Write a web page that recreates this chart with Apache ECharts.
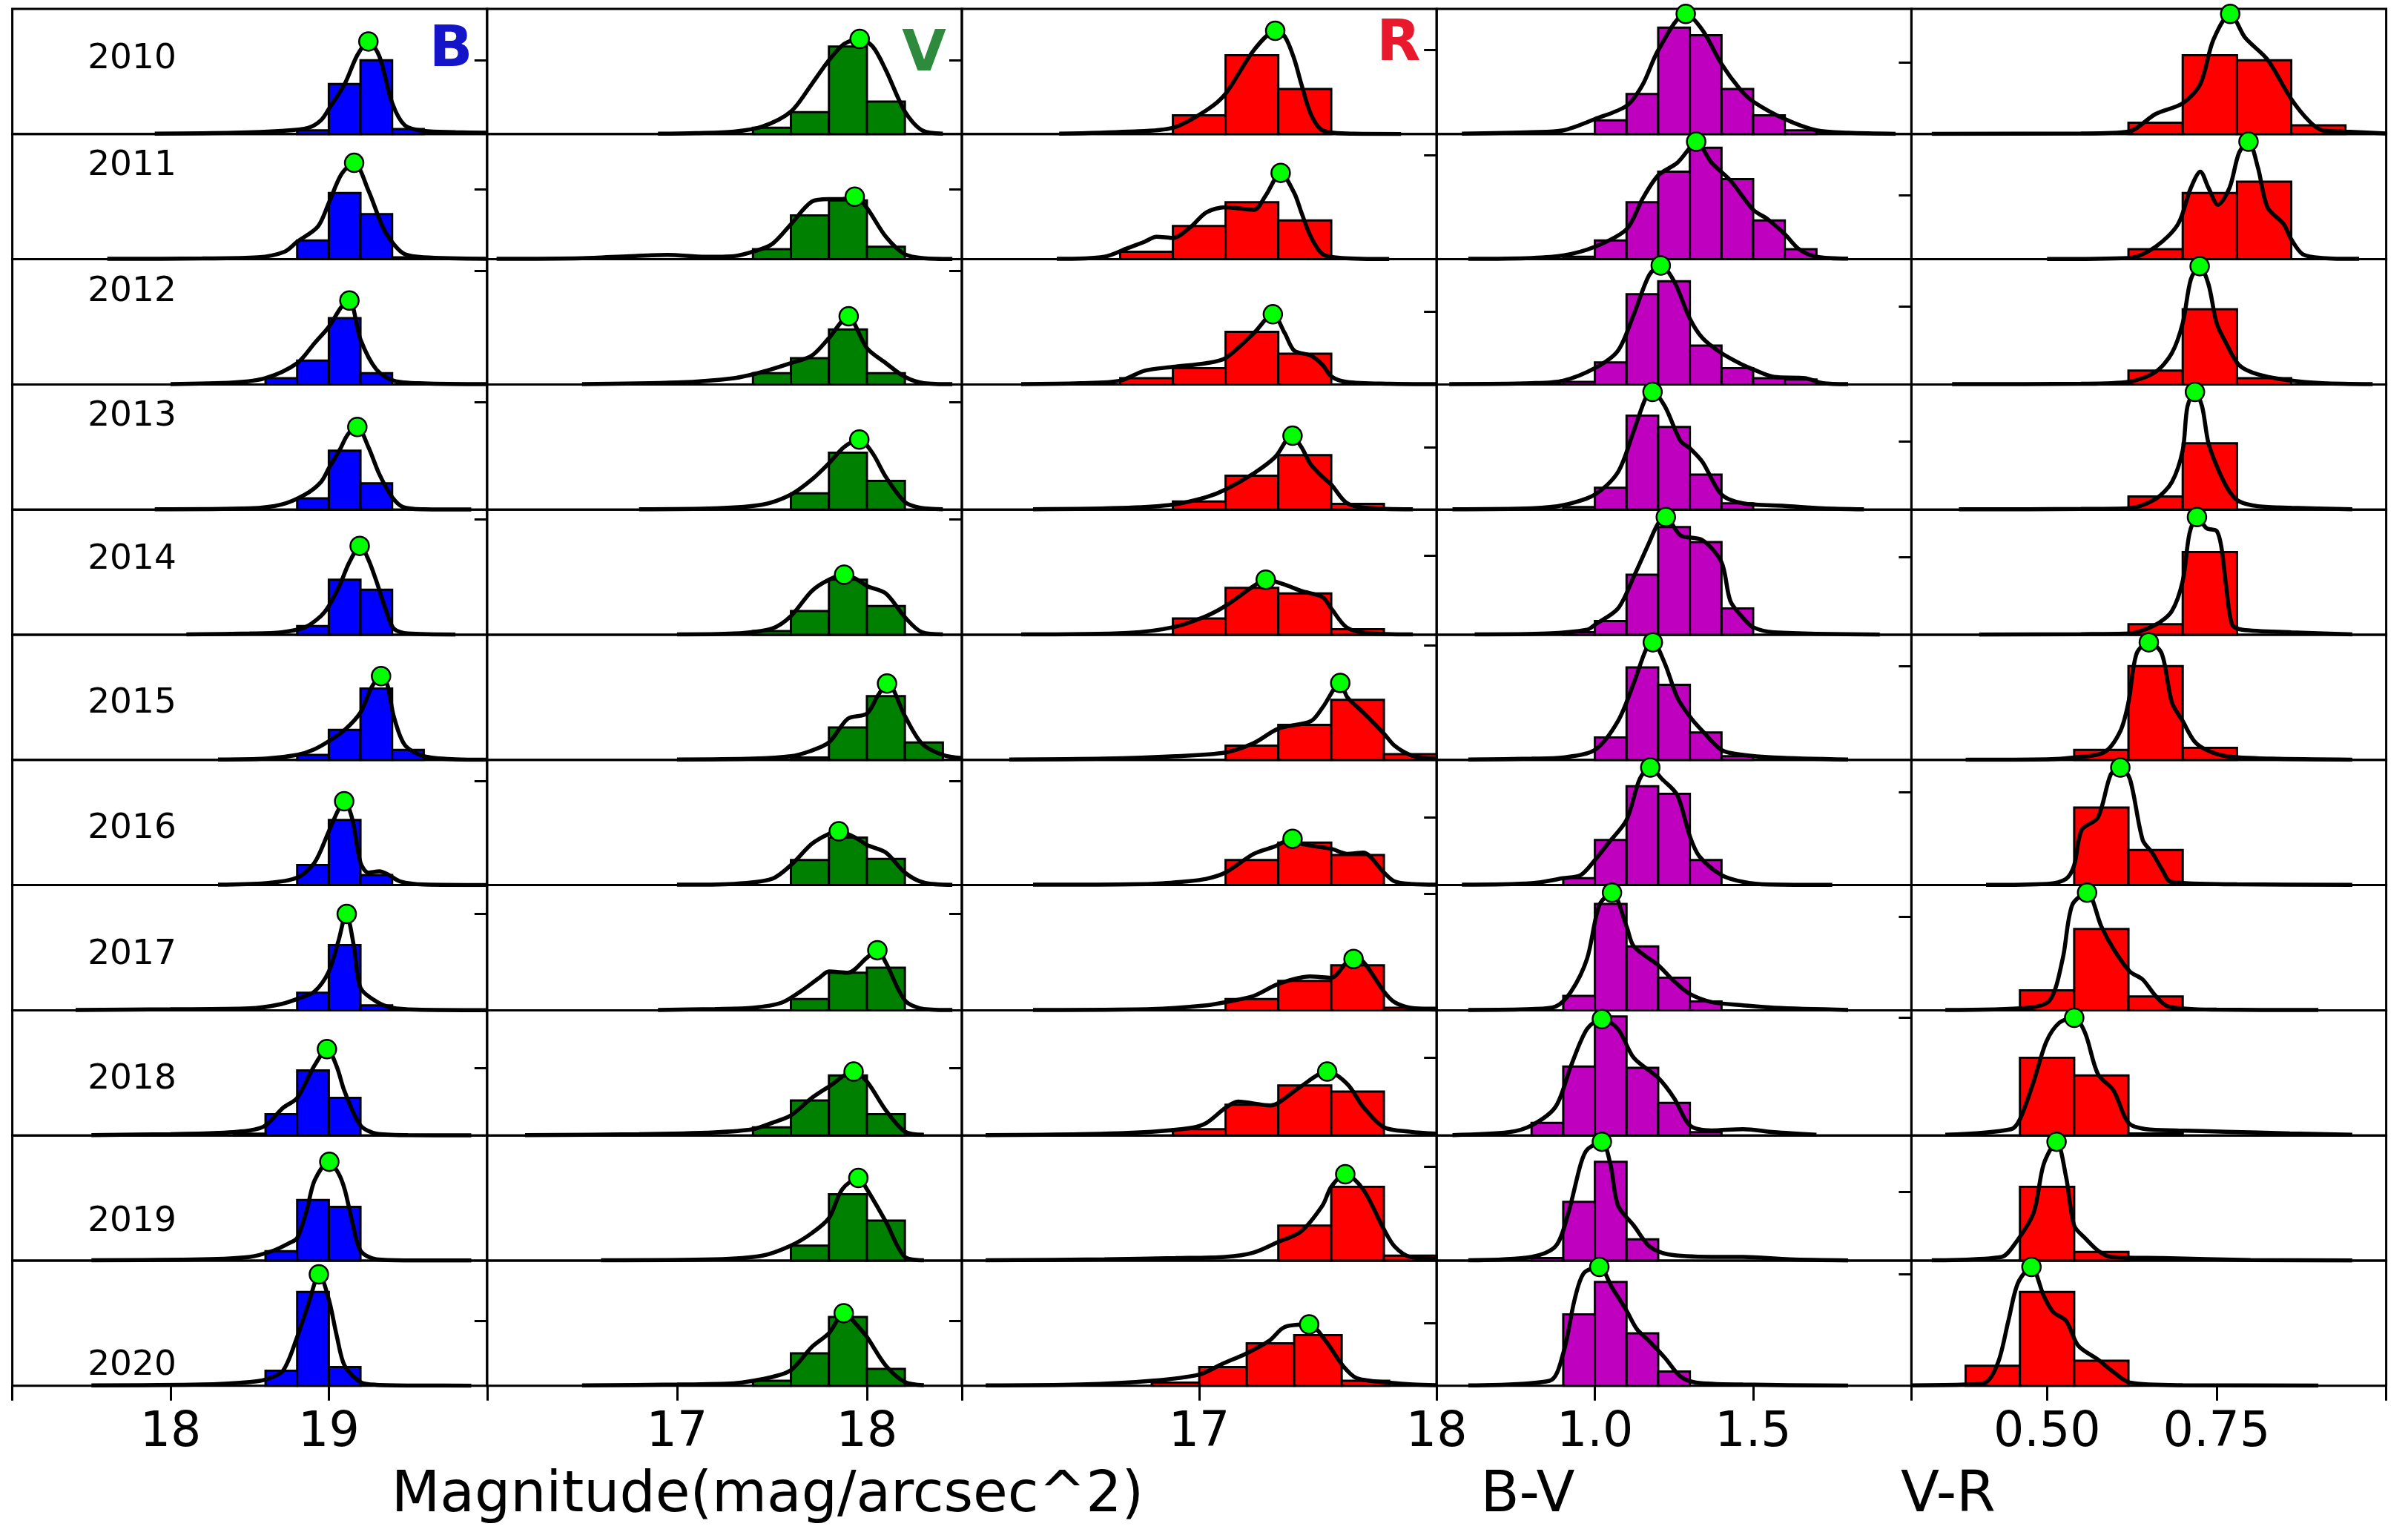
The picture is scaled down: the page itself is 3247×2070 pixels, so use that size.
<!DOCTYPE html>
<html>
<head>
<meta charset="utf-8">
<title>Histograms of sky brightness and colour, 2010-2020</title>
<script src="https://cdn.jsdelivr.net/npm/echarts@6.0.0/dist/echarts.min.js"></script>
<style>
  html, body { margin: 0; padding: 0; background: #fff; }
  #chart { width: 3247px; height: 2070px; }
</style>
</head>
<body>
<div id="chart"></div>
<script>
const YEARS = ['2010', '2011', '2012', '2013', '2014', '2015', '2016', '2017', '2018', '2019', '2020'];

// heights are read off the picture as % of each panel's height
// bars: [left edge, right edge, height]; kde: [x, height]; peak: [x, height]

// B band
const B_BARS = [
  [[18.8,19.0,3],[19.0,19.2,40],[19.2,19.4,59],[19.4,19.6,4]],
  [[18.8,19.0,15],[19.0,19.2,53],[19.2,19.4,36],[19.4,19.6,1.5]],
  [[18.6,18.8,5],[18.8,19.0,19],[19.0,19.2,53],[19.2,19.4,9]],
  [[18.8,19.0,9],[19.0,19.2,47],[19.2,19.4,21]],
  [[18.8,19.0,7],[19.0,19.2,44],[19.2,19.4,36]],
  [[18.8,19.0,4],[19.0,19.2,24],[19.2,19.4,57],[19.4,19.6,8]],
  [[18.8,19.0,16],[19.0,19.2,52],[19.2,19.4,8]],
  [[18.8,19.0,14],[19.0,19.2,52],[19.2,19.4,4]],
  [[18.4,18.6,1.5],[18.6,18.8,17],[18.8,19.0,52],[19.0,19.2,30]],
  [[18.6,18.8,7.5],[18.8,19.0,48.5],[19.0,19.2,43]],
  [[18.6,18.8,12],[18.8,19.0,75],[19.0,19.2,15]]
];
const B_KDE = [
  [[17.9,0.3],[18.4,1],[18.7,2.5],[18.87,5],[18.95,11],[19.0,20],[19.1,40],[19.18,63],[19.25,74],[19.32,62],[19.4,25],[19.48,7],[19.6,2.5],[19.8,1.5],[20,1]],
  [[17.6,0.3],[18.2,0.6],[18.55,1.5],[18.72,6],[18.8,14],[18.93,26],[19.0,45],[19.08,68],[19.16,77],[19.25,55],[19.34,26],[19.41,12],[19.48,4],[19.6,1.5],[20,0.3]],
  [[18.0,0.3],[18.4,1.5],[18.6,5],[18.8,17],[18.91,33],[19.0,46],[19.08,62],[19.13,67],[19.2,36],[19.3,12],[19.41,3],[19.6,0.8],[20,0.2]],
  [[17.9,0.3],[18.5,1],[18.7,4],[18.85,12],[18.95,22],[19.0,33],[19.07,48],[19.12,60],[19.18,66],[19.25,50],[19.32,28],[19.4,10],[19.47,2],[19.6,0.3],[19.9,0.1]],
  [[18.1,0.3],[18.5,1],[18.7,2],[18.85,6],[18.95,15],[19.0,23],[19.07,40],[19.13,58],[19.2,71],[19.25,60],[19.3,43],[19.36,20],[19.41,5],[19.5,1],[19.8,0.2]],
  [[18.3,0.3],[18.6,1],[18.8,4],[18.9,8],[19.0,15],[19.1,24],[19.2,38],[19.27,58],[19.33,67],[19.37,60],[19.41,35],[19.48,12],[19.6,3],[19.8,0.5],[20,0.2]],
  [[18.3,0.3],[18.6,1.5],[18.8,6],[18.91,18],[19.0,43],[19.06,60],[19.1,67],[19.15,52],[19.2,18],[19.25,10],[19.32,11],[19.38,8],[19.45,3],[19.6,0.5],[20,0.1]],
  [[17.4,0.3],[18.0,0.8],[18.5,1.5],[18.7,5],[18.82,10],[18.91,15],[19.0,31],[19.06,55],[19.11,77],[19.16,50],[19.2,18],[19.3,7],[19.4,2],[19.55,0.5],[20,0.1]],
  [[17.5,0.3],[18.0,1],[18.3,2],[18.5,4],[18.6,8],[18.71,22],[18.8,30],[18.91,56],[18.99,69],[19.05,55],[19.1,35],[19.2,8],[19.3,1.5],[19.5,0.3],[19.9,0.1]],
  [[17.5,0.3],[18.2,1],[18.5,3],[18.65,8],[18.75,14],[18.8,18],[18.86,40],[18.91,64],[19.0,79],[19.06,70],[19.1,57],[19.15,30],[19.2,8],[19.3,1],[19.5,0.2],[19.9,0.1]],
  [[17.5,0.3],[18.2,1],[18.5,3],[18.6,5],[18.71,12],[18.8,39],[18.87,65],[18.94,89],[19.0,69],[19.05,40],[19.1,16],[19.2,3],[19.3,0.8],[19.6,0.2],[19.9,0.1]]
];
const B_PEAK = [[19.25,74],[19.16,77],[19.13,67],[19.18,66],[19.195,71],[19.33,67],[19.097,67],[19.113,77],[18.988,69],[19.003,79],[18.937,89]];
const B_YTICK = [null,null,null,null,null,null,null,null,null,null,null];

// V band
const V_BARS = [
  [[17.4,17.6,5],[17.6,17.8,17.5],[17.8,18.0,70],[18.0,18.2,26]],
  [[17.4,17.6,8],[17.6,17.8,35],[17.8,18.0,47],[18.0,18.2,10]],
  [[17.4,17.6,9],[17.6,17.8,21],[17.8,18.0,44],[18.0,18.2,9]],
  [[17.6,17.8,13],[17.8,18.0,45.5],[18.0,18.2,23]],
  [[17.4,17.6,3],[17.6,17.8,19],[17.8,18.0,44],[18.0,18.2,23]],
  [[17.6,17.8,2],[17.8,18.0,26],[18.0,18.2,51],[18.2,18.4,14]],
  [[17.6,17.8,20],[17.8,18.0,38],[18.0,18.2,21]],
  [[17.6,17.8,9],[17.8,18.0,30],[18.0,18.2,34]],
  [[17.4,17.6,6.5],[17.6,17.8,28],[17.8,18.0,48],[18.0,18.2,17]],
  [[17.6,17.8,12],[17.8,18.0,53],[18.0,18.2,32]],
  [[17.4,17.6,4],[17.6,17.8,26],[17.8,18.0,55],[18.0,18.2,13.5]]
];
const V_KDE = [
  [[16.9,0.3],[17.1,0.8],[17.3,2],[17.45,6],[17.6,18],[17.71,40],[17.8,59],[17.88,72],[17.96,76],[18.03,70],[18.1,51],[18.2,18],[18.29,3],[18.4,0.3]],
  [[16.05,0.3],[16.5,0.8],[16.75,2.5],[16.95,3.5],[17.15,2],[17.3,2.5],[17.4,6],[17.5,12],[17.6,28],[17.71,46],[17.8,48],[17.87,48],[17.94,50],[18.0,41],[18.1,18],[18.2,4],[18.3,0.8],[18.45,0.2]],
  [[16.5,0.3],[17.0,1.5],[17.3,5],[17.45,10],[17.6,17],[17.71,23],[17.8,37],[17.9,54],[18.0,29],[18.1,17],[18.2,6],[18.3,1],[18.45,0.2]],
  [[16.8,0.3],[17.2,1],[17.45,4],[17.6,12],[17.71,24],[17.8,37],[17.88,50],[17.96,56],[18.03,45],[18.1,26],[18.2,6],[18.28,1.5],[18.4,0.3]],
  [[17.0,0.3],[17.3,1],[17.5,5],[17.6,15],[17.71,35],[17.8,44],[17.88,48],[17.95,44],[18.0,39],[18.1,33],[18.2,14],[18.29,2],[18.4,0.3]],
  [[17.0,0.3],[17.4,1],[17.6,3],[17.7,7],[17.8,14],[17.9,33],[18.0,37],[18.06,52],[18.11,61],[18.2,35],[18.29,13],[18.4,4],[18.5,1.5]],
  [[17.0,0.3],[17.3,1],[17.5,5],[17.6,16],[17.71,33],[17.8,41],[17.85,43],[17.95,37],[18.0,32],[18.1,26],[18.2,10],[18.3,2],[18.45,0.2]],
  [[16.9,0.3],[17.2,1],[17.4,2],[17.55,6],[17.65,15],[17.75,26],[17.8,31],[17.9,30],[18.0,42],[18.055,48],[18.1,38],[18.2,8],[18.3,1],[18.45,0.2]],
  [[16.2,0.3],[16.8,1],[17.2,2.5],[17.4,5],[17.5,10],[17.6,16],[17.71,30],[17.8,39],[17.93,51],[18.0,43],[18.1,20],[18.2,3],[18.3,0.5]],
  [[16.6,0.3],[17.2,1],[17.45,4],[17.6,12],[17.71,22],[17.8,34],[17.87,57],[17.955,66],[18.0,57],[18.1,31],[18.2,3],[18.3,0.3]],
  [[16.5,0.3],[17.0,1],[17.3,2],[17.4,4],[17.5,7],[17.6,12.5],[17.71,31],[17.8,42],[17.88,58],[17.95,48],[18.0,39],[18.1,16],[18.2,3],[18.3,0.5]]
];
const V_PEAK = [[17.962,76],[17.936,50],[17.904,54.5],[17.96,56],[17.88,48],[18.106,61],[17.852,43],[18.055,48],[17.93,51],[17.955,66],[17.878,58]];
const V_YTICK = [59,56,91,86,92,null,83,77,54,null,52];

// R band
const R_BARS = [
  [[16.889,17.111,15],[17.111,17.333,63],[17.333,17.556,36]],
  [[16.667,16.889,6],[16.889,17.111,26.5],[17.111,17.333,45.5],[17.333,17.556,31]],
  [[16.667,16.889,5],[16.889,17.111,13],[17.111,17.333,42],[17.333,17.556,24.5]],
  [[16.889,17.111,6.5],[17.111,17.333,27],[17.333,17.556,43.5],[17.556,17.778,4.5]],
  [[16.889,17.111,13],[17.111,17.333,37.5],[17.333,17.556,33],[17.556,17.778,4.5]],
  [[17.111,17.333,11.5],[17.333,17.556,28],[17.556,17.778,48],[17.778,18.0,4.6]],
  [[17.111,17.333,20],[17.333,17.556,34],[17.556,17.778,24]],
  [[17.111,17.333,9],[17.333,17.556,23.5],[17.556,17.778,36],[17.778,18.0,2]],
  [[16.889,17.111,5],[17.111,17.333,24.5],[17.333,17.556,40],[17.556,17.778,35]],
  [[17.333,17.556,28],[17.556,17.778,59],[17.778,18.0,4]],
  [[16.8,17.0,2.6],[17.0,17.2,15],[17.2,17.4,34],[17.4,17.6,40.5],[17.6,17.8,4]]
];
const R_KDE = [
  [[16.41,0.3],[16.7,2],[16.889,5],[17.03,19],[17.11,32],[17.23,67],[17.32,82],[17.36,78],[17.4,60],[17.43,40],[17.47,16],[17.52,3],[17.65,0.3],[17.85,0.1]],
  [[16.4,0.3],[16.6,2],[16.7,9],[16.77,14],[16.82,18],[16.889,17],[16.965,26],[17.03,37.5],[17.11,41.5],[17.23,39.5],[17.28,51],[17.343,69],[17.4,53],[17.43,37.5],[17.47,18],[17.52,4],[17.6,1],[17.8,0.2]],
  [[16.25,0.3],[16.5,1],[16.667,3],[16.77,11],[16.889,14],[17.03,17],[17.11,21],[17.23,41],[17.31,56],[17.36,41],[17.4,27],[17.47,23],[17.52,15.5],[17.556,6.5],[17.62,2],[17.8,0.5],[18,0.2]],
  [[16.3,0.3],[16.7,1.5],[16.889,4],[17.03,10],[17.11,16],[17.23,29],[17.32,42],[17.39,59],[17.43,50],[17.47,36],[17.52,26],[17.556,20],[17.62,5.5],[17.7,1.5],[17.9,0.3]],
  [[16.25,0.3],[16.7,1.5],[16.889,6],[17.03,15],[17.11,23],[17.23,39],[17.28,44],[17.36,40],[17.43,35],[17.52,30],[17.556,21],[17.62,6],[17.7,1.5],[17.9,0.3]],
  [[16.2,0.3],[16.6,1],[16.9,3],[17.11,6],[17.23,13.5],[17.333,25],[17.47,31],[17.52,42],[17.594,61.5],[17.624,50],[17.69,38],[17.778,21],[17.822,11.5],[17.888,4],[17.95,1.5],[18.0,1]],
  [[16.3,0.3],[16.8,1],[16.95,3],[17.03,5],[17.11,10],[17.23,25],[17.32,31],[17.39,37],[17.43,33],[17.556,29],[17.624,25],[17.69,26],[17.778,10],[17.822,3],[17.9,0.8],[18,0.3]],
  [[16.3,0.3],[16.8,1],[17.03,4],[17.11,6.5],[17.23,11.5],[17.333,21],[17.466,27],[17.556,26],[17.624,39],[17.65,41],[17.69,39],[17.778,15],[17.822,6.5],[17.888,2],[18,0.5]],
  [[16.1,0.3],[16.5,1],[16.8,3],[16.965,6],[17.03,10],[17.11,22],[17.163,27],[17.3,24],[17.333,26],[17.427,39],[17.539,51],[17.624,41],[17.69,23],[17.778,6.5],[17.888,3],[18,1.5]],
  [[16.1,0.3],[16.6,1],[16.9,2],[17.11,3],[17.229,6.5],[17.333,15],[17.427,23],[17.519,44],[17.556,59],[17.615,69],[17.69,57],[17.778,25],[17.822,11.5],[17.888,3],[18,1.5]],
  [[16.1,0.3],[16.5,1],[16.8,4],[17.0,9],[17.097,17.5],[17.2,26],[17.295,36],[17.36,47],[17.463,49],[17.532,36],[17.605,16],[17.664,6],[17.8,2.6],[17.9,1],[18,0.5]]
];
const R_PEAK = [[17.32,82.5],[17.343,69],[17.31,56],[17.393,59],[17.28,44],[17.594,61.5],[17.393,37],[17.65,41],[17.539,51],[17.615,69],[17.463,49]];
const R_YTICK = [59,56,91,86,92,null,83,77,54,null,52];

// B-V colour
const BV_BARS = [
  [[1.0,1.1,11],[1.1,1.2,32],[1.2,1.3,85],[1.3,1.4,79],[1.4,1.5,36],[1.5,1.6,15],[1.6,1.7,3]],
  [[0.9,1.0,2],[1.0,1.1,15],[1.1,1.2,45.5],[1.2,1.3,70],[1.3,1.4,89],[1.4,1.5,64],[1.5,1.6,31],[1.6,1.7,8]],
  [[0.9,1.0,2],[1.0,1.1,17.5],[1.1,1.2,72],[1.2,1.3,82.5],[1.3,1.4,31],[1.4,1.5,13],[1.5,1.6,5],[1.6,1.7,4]],
  [[0.9,1.0,2],[1.0,1.1,17.5],[1.1,1.2,75],[1.2,1.3,66],[1.3,1.4,28],[1.4,1.5,5]],
  [[0.9,1.0,2],[1.0,1.1,11],[1.1,1.2,48],[1.2,1.3,86],[1.3,1.4,74],[1.4,1.5,21]],
  [[1.0,1.1,18],[1.1,1.2,74],[1.2,1.3,60],[1.3,1.4,22],[1.4,1.5,3]],
  [[0.9,1.0,5.5],[1.0,1.1,36],[1.1,1.2,79],[1.2,1.3,73],[1.3,1.4,20]],
  [[0.9,1.0,11.5],[1.0,1.1,85],[1.1,1.2,51],[1.2,1.3,26],[1.3,1.4,7]],
  [[0.8,0.9,10],[0.9,1.0,55],[1.0,1.1,95],[1.1,1.2,54],[1.2,1.3,26],[1.3,1.4,2.6]],
  [[0.8,0.9,2],[0.9,1.0,47],[1.0,1.1,79],[1.1,1.2,17]],
  [[0.9,1.0,57],[1.0,1.1,83],[1.1,1.2,42],[1.2,1.3,11.5]]
];
const BV_KDE = [
  [[0.58,0.3],[0.8,1.5],[0.9,3],[1.0,12],[1.1,22.6],[1.152,40],[1.2,67],[1.287,96],[1.34,83],[1.4,56],[1.458,36],[1.5,26],[1.6,12],[1.7,3],[1.8,1],[1.95,0.2]],
  [[0.6,0.3],[0.8,1],[0.9,3],[1.0,10],[1.1,24],[1.152,49],[1.2,67],[1.26,77],[1.3,89],[1.32,94],[1.369,77],[1.428,63],[1.5,39.5],[1.546,32],[1.6,20],[1.645,8],[1.7,2],[1.8,0.5]],
  [[0.54,0.3],[0.8,1],[0.9,3],[1.0,13],[1.073,27],[1.123,56],[1.172,87.5],[1.208,95],[1.251,82],[1.3,52.5],[1.34,37],[1.4,25],[1.468,15.5],[1.5,12],[1.566,6],[1.665,5],[1.72,1],[1.8,0.2]],
  [[0.55,0.3],[0.8,1],[0.9,3.5],[1.0,12],[1.073,30],[1.123,63],[1.162,90],[1.182,94],[1.221,82.5],[1.27,55],[1.3,49],[1.34,38],[1.4,12],[1.468,5],[1.6,3],[1.72,1],[1.85,0.2]],
  [[0.62,0.3],[0.85,1],[0.975,4],[1.0,8],[1.073,21],[1.123,46.5],[1.172,74],[1.2,89],[1.224,94],[1.27,79.5],[1.34,75.5],[1.4,58],[1.428,27],[1.468,13.5],[1.5,6],[1.566,2],[1.9,0.2]],
  [[0.6,0.3],[0.8,1],[0.9,2],[1.0,8],[1.073,31],[1.123,61.5],[1.162,88.5],[1.183,94],[1.221,77],[1.26,50],[1.3,34.6],[1.34,23],[1.4,8],[1.468,4],[1.566,2],[1.8,0.3]],
  [[0.58,0.3],[0.8,1.5],[0.9,5.5],[0.955,8],[1.0,20],[1.044,34],[1.1,52],[1.142,85],[1.175,94],[1.211,85],[1.26,72],[1.3,39],[1.33,23],[1.4,8],[1.468,2.6],[1.55,0.5],[1.75,0.2]],
  [[0.6,0.3],[0.8,1],[0.876,3],[0.925,15],[0.975,41],[1.014,84],[1.054,94],[1.1,67],[1.123,51],[1.2,36],[1.251,23],[1.3,13],[1.369,6.5],[1.468,4],[1.566,2],[1.8,0.3]],
  [[0.55,0.3],[0.728,2.6],[0.8,8],[0.876,23],[0.925,56],[0.975,85],[1.022,93],[1.073,85],[1.123,62],[1.2,46],[1.251,29.5],[1.3,8],[1.369,4],[1.468,5],[1.566,2.6],[1.7,0.5]],
  [[0.6,0.3],[0.8,3],[0.876,11.5],[0.916,38],[0.955,77],[0.975,88.5],[1.022,95],[1.049,77],[1.073,44],[1.123,28],[1.172,11.5],[1.231,5],[1.369,3],[1.468,3],[1.615,1],[1.8,0.2]],
  [[0.6,0.3],[0.857,4],[0.9,26],[0.936,69],[0.965,90],[1.014,95],[1.054,78.5],[1.1,60],[1.132,45.5],[1.172,35.6],[1.221,22.4],[1.27,7.6],[1.32,2.6],[1.468,1],[1.8,0.2]]
];
const BV_PEAK = [[1.287,96],[1.32,94],[1.208,95],[1.182,94],[1.224,94],[1.183,94],[1.175,94],[1.054,94],[1.022,93],[1.022,95],[1.014,95]];
const BV_YTICK = [67,83,58,50,63,91.5,54,93,62,75,50];

// V-R colour
const VR_BARS = [
  [[0.62,0.70,9],[0.70,0.78,63],[0.78,0.86,59],[0.86,0.94,7]],
  [[0.62,0.70,8],[0.70,0.78,53],[0.78,0.86,62]],
  [[0.62,0.70,11],[0.70,0.78,60],[0.78,0.86,5]],
  [[0.62,0.70,10.5],[0.70,0.78,53]],
  [[0.62,0.70,8.5],[0.70,0.78,66]],
  [[0.54,0.62,8],[0.62,0.70,75],[0.70,0.78,9.6]],
  [[0.54,0.62,62],[0.62,0.70,28]],
  [[0.46,0.54,16],[0.54,0.62,65],[0.62,0.70,11]],
  [[0.46,0.54,62],[0.54,0.62,48],[0.62,0.70,1.6]],
  [[0.46,0.54,59],[0.54,0.62,7]],
  [[0.38,0.46,16],[0.46,0.54,75],[0.54,0.62,20]]
];
const VR_KDE = [
  [[0.33,0.2],[0.55,0.5],[0.62,2],[0.66,16],[0.7,24.6],[0.726,40],[0.745,75],[0.77,96],[0.792,77],[0.825,59.5],[0.86,28],[0.887,10],[0.906,3],[0.94,2],[1.0,0.5]],
  [[0.5,0.2],[0.62,1],[0.66,10],[0.693,28],[0.712,57],[0.726,70],[0.738,57],[0.752,43.5],[0.769,57],[0.783,85],[0.797,94],[0.811,73],[0.825,41.5],[0.849,28],[0.86,16],[0.877,4],[0.906,1],[0.96,0.3]],
  [[0.36,0.2],[0.55,0.5],[0.62,2],[0.66,10],[0.684,25],[0.7,49],[0.712,84],[0.725,94.5],[0.738,80],[0.75,49],[0.764,33],[0.783,15.5],[0.811,8],[0.86,3],[0.906,1],[0.98,0.2]],
  [[0.37,0.2],[0.55,0.5],[0.62,1],[0.66,8.5],[0.684,22],[0.7,47.5],[0.707,82.5],[0.718,94],[0.7285,82.5],[0.738,53],[0.754,30],[0.769,14.4],[0.783,6.6],[0.811,2.7],[0.86,1.5],[0.95,0.3]],
  [[0.4,0.2],[0.55,0.5],[0.62,1],[0.66,8],[0.684,19],[0.7,43],[0.71,81],[0.721,94],[0.7355,85],[0.75,83],[0.757,70],[0.764,39],[0.773,8],[0.788,4],[0.86,2],[0.95,0.3]],
  [[0.38,0.2],[0.5,0.5],[0.54,2],[0.584,6],[0.608,23],[0.62,46],[0.632,85],[0.65,94],[0.669,85],[0.684,46],[0.7,31],[0.717,15],[0.735,8],[0.764,3],[0.83,1],[0.95,0.2]],
  [[0.41,0.2],[0.5,1],[0.528,5],[0.54,16],[0.551,44],[0.575,54],[0.594,88.5],[0.608,94],[0.622,85],[0.641,36],[0.655,26],[0.669,13],[0.683,2.6],[0.78,0.6],[0.95,0.2]],
  [[0.35,0.2],[0.471,2],[0.504,8],[0.523,41],[0.537,84],[0.559,94],[0.58,67],[0.598,49],[0.622,31],[0.641,24.6],[0.66,11.5],[0.679,3],[0.75,0.5],[0.9,0.2]],
  [[0.35,0.5],[0.447,5],[0.46,13],[0.48,42.6],[0.499,75],[0.518,90],[0.54,94],[0.556,82],[0.575,49],[0.598,36],[0.62,10],[0.646,5],[0.693,4],[0.764,3],[0.858,1.6],[0.95,0.5]],
  [[0.33,0.3],[0.433,3],[0.452,13],[0.48,38],[0.495,77],[0.514,95],[0.528,67],[0.54,28],[0.556,18],[0.575,8],[0.594,3],[0.67,2],[0.8,0.5],[0.95,0.2]],
  [[0.3,0.3],[0.38,1],[0.409,2.6],[0.428,19],[0.443,52],[0.457,82],[0.477,95],[0.495,72],[0.509,59],[0.528,52],[0.546,32],[0.575,21],[0.598,11],[0.622,2.6],[0.7,0.5],[0.9,0.2]]
];
const VR_PEAK = [[0.77,96],[0.797,94],[0.725,94.5],[0.718,94],[0.721,94],[0.65,94],[0.608,94],[0.559,94],[0.54,94],[0.514,95],[0.477,95]];
const VR_YTICK = [57,51,62,54.5,62,75,74,75,94,55,89];

// x axes: range, tick marks and labelled ticks (bottom row only)
const COLUMNS = [
  { bars: B_BARS,  kde: B_KDE,  peak: B_PEAK,  ytick: B_YTICK,  min: 17,  max: 20,   ticks: [17, 18, 19, 20],     labels: [18, 19],     digits: 0, color: '#0000ff' },
  { bars: V_BARS,  kde: V_KDE,  peak: V_PEAK,  ytick: V_YTICK,  min: 16,  max: 18.5, ticks: [16, 17, 18],         labels: [17, 18],     digits: 0, color: '#008000' },
  { bars: R_BARS,  kde: R_KDE,  peak: R_PEAK,  ytick: R_YTICK,  min: 16,  max: 18,   ticks: [16, 17, 18],         labels: [17, 18],     digits: 0, color: '#ff0000' },
  { bars: BV_BARS, kde: BV_KDE, peak: BV_PEAK, ytick: BV_YTICK, min: 0.5, max: 2.0,  ticks: [0.5, 1.0, 1.5, 2.0], labels: [1.0, 1.5],   digits: 1, color: '#bf00bf' },
  { bars: VR_BARS, kde: VR_KDE, peak: VR_PEAK, ytick: VR_YTICK, min: 0.3, max: 1.0,  ticks: [0.5, 0.75, 1.0],     labels: [0.5, 0.75],  digits: 2, color: '#ff0000' }
];

const FONT = 'DejaVu Sans';
const TOP = 12, ROW_H = 168.8, LEFT = 16.6, COL_W = 640.2;

const grids = [], xAxes = [], yAxes = [], series = [];

COLUMNS.forEach((col, c) => {
  YEARS.forEach((year, r) => {
    const i = grids.length;
    const last = r === YEARS.length - 1;
    const yt = col.ytick[r];
    grids.push({
      left: LEFT + c * COL_W, top: TOP + r * ROW_H, width: COL_W, height: ROW_H,
      show: true, borderColor: '#000', borderWidth: 3, backgroundColor: 'transparent'
    });
    xAxes.push({
      type: 'value', gridIndex: i, min: col.min, max: col.max,
      axisLine: { show: false },
      splitLine: { show: false },
      axisTick: { show: last, customValues: col.ticks, length: 20, lineStyle: { color: '#000', width: 3 } },
      axisLabel: {
        show: last, customValues: col.labels, margin: 32,
        fontSize: 65, color: '#000', fontFamily: FONT,
        formatter: v => Number(v).toFixed(col.digits)
      }
    });
    yAxes.push({
      type: 'value', gridIndex: i, min: 0, max: 100,
      axisLine: { show: false, onZero: false },
      splitLine: { show: false },
      axisLabel: { show: false },
      axisTick: { show: yt != null, customValues: yt != null ? [yt] : [], length: 17, lineStyle: { color: '#000', width: 3 } }
    });
    series.push({
      type: 'custom', xAxisIndex: i, yAxisIndex: i, z: 2, silent: true,
      data: col.bars[r],
      encode: { x: [0, 1], y: 2 },
      renderItem: (params, api) => {
        const p0 = api.coord([api.value(0), api.value(2)]);
        const p1 = api.coord([api.value(1), 0]);
        return {
          type: 'rect',
          shape: { x: p0[0], y: p0[1], width: p1[0] - p0[0], height: p1[1] - p0[1] },
          style: { fill: col.color, stroke: '#000', lineWidth: 3 }
        };
      }
    });
    series.push({
      type: 'line', xAxisIndex: i, yAxisIndex: i, z: 3, silent: true,
      data: col.kde[r], smooth: 0.3, symbol: 'none',
      lineStyle: { color: '#000', width: 5.5 }
    });
    series.push({
      type: 'scatter', xAxisIndex: i, yAxisIndex: i, z: 4, silent: true,
      data: [col.peak[r]], symbolSize: 25,
      itemStyle: { color: '#00ff00', borderColor: '#000', borderWidth: 2.5, opacity: 1 }
    });
  });
});

// year labels sit at slightly different heights in each row
const YEAR_POS = [0.40, 0.255, 0.26, 0.26, 0.40, 0.55, 0.55, 0.556, 0.556, 0.69, 0.84];

const graphics = YEARS.map((year, r) => ({
  type: 'text', x: 178, y: TOP + r * ROW_H + YEAR_POS[r] * ROW_H, z: 10,
  style: { text: year, fontSize: 47, fontFamily: FONT, fill: '#000', align: 'center', verticalAlign: 'middle' }
}));

[['B', 608, 69, '#1414c8'], ['V', 1246, 75, '#2e8b3e'], ['R', 1886, 61, '#e8192c']].forEach(([t, x, y, color]) => {
  graphics.push({
    type: 'text', x: x, y: y, z: 10,
    style: { text: t, fontSize: 77, fontWeight: 'bold', fontFamily: FONT, fill: color, align: 'center', verticalAlign: 'middle' }
  });
});

[['Magnitude(mag/arcsec^2)', 1035], ['B-V', 2060], ['V-R', 2627]].forEach(([t, x]) => {
  graphics.push({
    type: 'text', x: x, y: 2018, z: 10,
    style: { text: t, fontSize: 76, fontFamily: FONT, fill: '#000', align: 'center', verticalAlign: 'middle' }
  });
});

const chart = echarts.init(document.getElementById('chart'), null, { renderer: 'canvas' });
chart.setOption({
  backgroundColor: '#fff',
  animation: false,
  grid: grids,
  xAxis: xAxes,
  yAxis: yAxes,
  series: series,
  graphic: graphics
});
</script>
</body>
</html>
